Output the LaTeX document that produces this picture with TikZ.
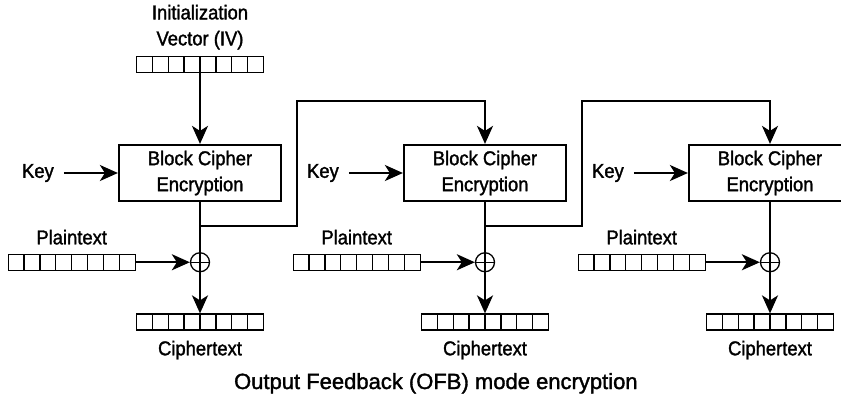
\documentclass[tikz,border=0pt]{standalone}
\usepackage{fontspec}
\setmainfont{Liberation Sans}[FakeStretch=0.92, FakeBold=1.5]
\newfontfamily\titlefont{Liberation Sans}[FakeBold=1.5]
\usetikzlibrary{arrows.meta,positioning}

\begin{document}
\begin{tikzpicture}[x=1pt, y=-1pt, >={Stealth[length=18pt,width=16pt,inset=5pt]},
    line width=2.2pt, font=\fontsize{20}{26}\selectfont,
    cipher/.style={draw, rectangle, minimum width=162pt, minimum height=56pt, align=center, inner sep=0pt},
    reg/.style={draw, line width=1.3pt, minimum width=127pt, minimum height=16pt, inner sep=0pt,
        path picture={\foreach \c in {1,...,7}
            \draw[line width=1.3pt] ([xshift=\c*15.875pt]path picture bounding box.south west)
                -- ([xshift=\c*15.875pt]path picture bounding box.north west);}},
    xor/.style={draw, circle, line width=1.3pt, minimum size=19pt, inner sep=0pt,
        path picture={\draw[line width=1.3pt] (path picture bounding box.north) -- (path picture bounding box.south)
            (path picture bounding box.west) -- (path picture bounding box.east);}},
    txt/.style={inner sep=0pt, align=center}]
    \useasboundingbox (0,0) rectangle (841,397);
    \clip (0,0) rectangle (841,397);

    % Block ciphers {e1, e2, e3}
    \node [cipher]  (e1)  at (200,173)          {Block Cipher\\Encryption};
    \node [cipher]  (e2)  at (485,173)          {Block Cipher\\Encryption};
    \node [cipher]  (e3)  at (770,173)          {Block Cipher\\Encryption};

    % Initialization vector
    \node [reg]     (iv)  [above=71pt of e1]  {};
    \node [txt]     (ivt) [above=5pt of iv]   {Initialization\\Vector (IV)};

    % Keys
    \node [txt]     (k1)  [left=63pt of e1]   {Key};
    \node [txt]     (k2)  [left=63pt of e2]   {Key};
    \node [txt]     (k3)  [left=63pt of e3]   {Key};

    % XOR {x1, x2, x3}
    \node [xor]     (x1)  [below=50pt of e1]  {};
    \node [xor]     (x2)  [below=50pt of e2]  {};
    \node [xor]     (x3)  [below=50pt of e3]  {};

    % Plaintext
    \node [reg]     (p1)  [left=54pt of x1]   {};
    \node [reg]     (p2)  [left=54pt of x2]   {};
    \node [reg]     (p3)  [left=54pt of x3]   {};
    \node [txt]     (pt1) [above=8pt of p1]   {Plaintext};
    \node [txt]     (pt2) [above=8pt of p2]   {Plaintext};
    \node [txt]     (pt3) [above=8pt of p3]   {Plaintext};

    % Ciphertext
    \node [reg]     (c1)  [below=41pt of x1]  {};
    \node [reg]     (c2)  [below=41pt of x2]  {};
    \node [reg]     (c3)  [below=41pt of x3]  {};
    \node [txt]     (ct1) [below=9pt of c1]   {Ciphertext};
    \node [txt]     (ct2) [below=9pt of c2]   {Ciphertext};
    \node [txt]     (ct3) [below=9pt of c3]   {Ciphertext};

    \node [txt, font=\titlefont\fontsize{22}{26}\selectfont, anchor=base west] (title) at (233,389)
        {Output Feedback (OFB) mode encryption};

    % Feedback corners
    \coordinate (b1) at (200,226);
    \coordinate (b2) at (485,226);
    \coordinate (f1) at (297,101);
    \coordinate (f2) at (582,101);

    % Paths
    \draw [->] (iv) -- (e1);
    \draw [->] ([xshift=9pt]k1.east) -- (e1);
    \draw [->] ([xshift=9pt]k2.east) -- (e2);
    \draw [->] ([xshift=9pt]k3.east) -- (e3);
    \draw      (e1) -- (x1);
    \draw      (e2) -- (x2);
    \draw      (e3) -- (x3);
    \draw [->] (p1) -- (x1);
    \draw [->] (p2) -- (x2);
    \draw [->] (p3) -- (x3);
    \draw [->] (x1) -- (c1);
    \draw [->] (x2) -- (c2);
    \draw [->] (x3) -- (c3);
    \draw [->] (b1) -| (f1) -| (e2);
    \draw [->] (b2) -| (f2) -| (e3);

\end{tikzpicture}
\end{document}
